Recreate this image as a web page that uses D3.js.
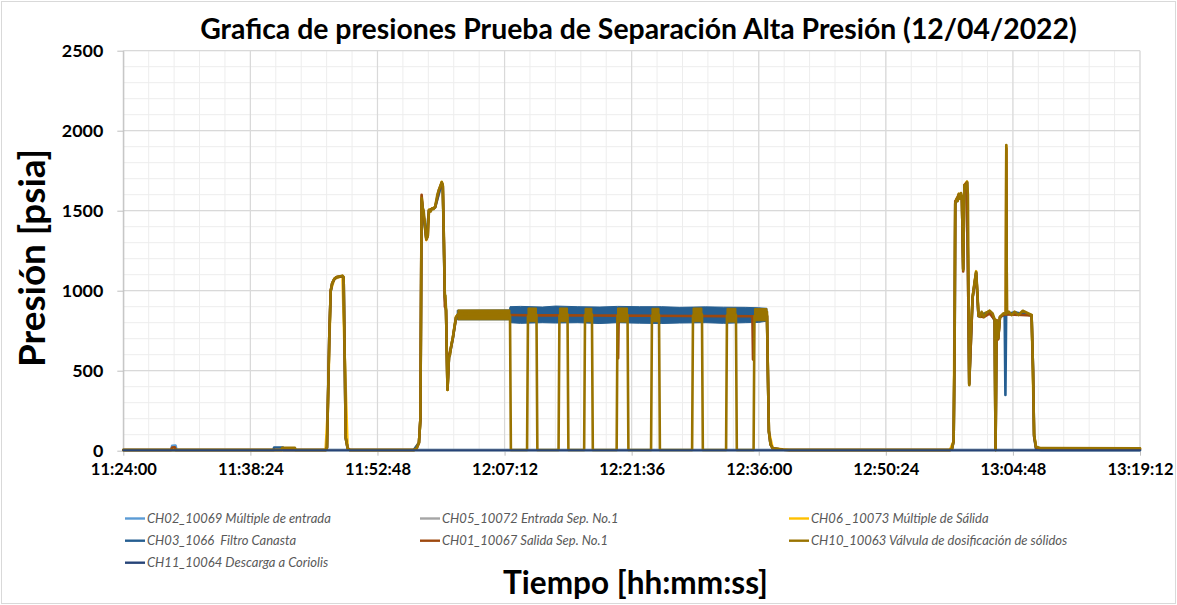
<!DOCTYPE html>
<html lang="es">
<head>
<meta charset="utf-8">
<title>Grafica de presiones</title>
<script src="https://cdn.jsdelivr.net/npm/d3@7"></script>
<style>
  html, body { margin: 0; padding: 0; background: #ffffff; }
  svg { display: block; }
  text { font-family: Lato, "Open Sans", "DejaVu Sans", sans-serif; }
</style>
</head>
<body>
<svg id="chart" width="1177" height="605"></svg>
<script>
// ---- Texts -----------------------------------------------------------
const chartTitle = "Grafica de presiones Prueba de Separación Alta Presión (12/04/2022)";
const yAxisTitle = "Presión [psia]";
const xAxisTitle = "Tiempo [hh:mm:ss]";

// ---- Axis ticks --------------------------------------------------------
const xTickLabels = ["11:24:00", "11:38:24", "11:52:48", "12:07:12", "12:21:36",
                     "12:36:00", "12:50:24", "13:04:48", "13:19:12"];
const yTickValues = [0, 500, 1000, 1500, 2000, 2500];

// ---- Series names (legend order) ---------------------------------------
const seriesNames = [
  "CH02_10069 Múltiple de entrada",
  "CH05_10072 Entrada Sep. No.1",
  "CH06 _10073 Múltiple de Sálida",
  "CH03_1066  Filtro Canasta",
  "CH01_10067 Salida Sep. No.1",
  "CH10_10063 Válvula de dosificación de sólidos",
  "CH11_10064 Descarga a Coriolis"
];

// ---- Pressure records [hh:mm:ss, psia] ---------------------------------
const ch02 = [
  ["11:24:00", 4], ["11:29:25", 4], ["11:29:32", 30], ["11:29:55", 32], ["11:30:02", 4],
  ["13:19:12", 4]
];

const ch05 = [
  ["11:24:00", 4], ["13:19:12", 4]
];

const ch06 = [
  ["11:24:00", 4], ["11:46:55", 4], ["11:47:10", 250], ["11:47:30", 1000], ["11:47:55", 1074],
  ["11:48:50", 1092], ["11:49:05", 600], ["11:49:25", 15], ["11:49:40", 4],
  ["11:56:55", 4], ["11:57:30", 50], ["11:57:40", 200], ["11:57:48", 1590], ["11:57:55", 1520],
  ["11:58:20", 1316], ["11:58:38", 1505], ["11:59:20", 1522], ["12:00:05", 1680], ["12:00:12", 1658],
  ["12:00:26", 960], ["12:00:34", 878], ["12:00:44", 380], ["12:00:54", 586], ["12:01:21", 710],
  ["12:01:42", 836], ["12:01:55", 850], ["12:36:56", 850], ["12:37:09", 120], ["12:37:35", 15],
  ["12:39:30", 4],
  ["12:57:40", 4], ["12:58:05", 60], ["12:58:16", 1550], ["12:58:40", 1605], ["12:59:01", 1590],
  ["12:59:10", 1135], ["12:59:18", 1660], ["12:59:36", 1682], ["12:59:51", 412], ["13:00:14", 960],
  ["13:00:38", 1122], ["13:00:54", 845], ["13:02:10", 872], ["13:02:44", 820], ["13:02:50", 4],
  ["13:02:57", 815], ["13:03:08", 705], ["13:03:20", 836], ["13:04:00", 855], ["13:04:03", 1905],
  ["13:04:07", 858], ["13:06:55", 848], ["13:07:12", 100], ["13:07:25", 20], ["13:08:00", 12],
  ["13:19:12", 12]
];

const ch03 = [
  ["11:24:00", 4], ["11:41:00", 4], ["11:41:05", 20], ["11:42:06", 20], ["11:42:11", 4],
  ["11:46:55", 4], ["11:47:05", 20], ["11:47:10", 250], ["11:47:20", 700], ["11:47:30", 995],
  ["11:47:40", 1045], ["11:47:55", 1072], ["11:48:10", 1084], ["11:48:50", 1090], ["11:48:58", 1080],
  ["11:49:05", 600], ["11:49:12", 80], ["11:49:25", 15], ["11:49:40", 4],
  ["11:56:55", 4], ["11:57:30", 50], ["11:57:40", 200], ["11:57:48", 1570], ["11:57:55", 1515],
  ["11:58:20", 1325], ["11:58:38", 1500], ["11:59:20", 1520], ["12:00:05", 1672], ["12:00:12", 1655],
  ["12:00:26", 955], ["12:00:34", 875], ["12:00:44", 385], ["12:00:54", 580], ["12:01:21", 705],
  ["12:01:42", 830], ["12:01:55", 846],
  ["12:07:49", 848], ["12:20:00", 846], ["12:36:50", 842], ["12:36:56", 842], ["12:37:02", 500],
  ["12:37:09", 120], ["12:37:20", 40], ["12:37:35", 15], ["12:38:45", 6], ["12:39:30", 4],
  ["12:57:40", 4], ["12:57:55", 15], ["12:58:05", 60], ["12:58:12", 700], ["12:58:16", 1540],
  ["12:58:40", 1600], ["12:59:01", 1585], ["12:59:10", 1135], ["12:59:18", 1655], ["12:59:36", 1675],
  ["12:59:51", 415], ["13:00:14", 955], ["13:00:38", 1110], ["13:00:54", 840], ["13:02:10", 870],
  ["13:02:44", 815], ["13:02:50", 4], ["13:02:57", 810], ["13:03:08", 700], ["13:03:20", 835],
  ["13:03:52", 852], ["13:03:57", 348], ["13:04:02", 852], ["13:05:00", 865], ["13:06:55", 845],
  ["13:07:05", 500], ["13:07:12", 90], ["13:07:25", 10], ["13:08:00", 4], ["13:19:12", 4]
];

// noisy reading of CH03 during the separation test: [hh:mm:ss, min, max]
const ch03Band = [
  ["12:01:50", 818, 878], ["12:07:45", 818, 880], ["12:07:49", 800, 900], ["12:09:00", 796, 902],
  ["12:11:30", 800, 898], ["12:13:00", 798, 904], ["12:15:30", 800, 900], ["12:18:00", 795, 898],
  ["12:20:00", 800, 902], ["12:22:30", 797, 900], ["12:25:00", 795, 900], ["12:27:00", 798, 896],
  ["12:30:00", 800, 899], ["12:32:00", 796, 897], ["12:34:30", 800, 896], ["12:36:00", 802, 893],
  ["12:36:56", 810, 890]
];

const ch01 = [
  ["11:24:00", 4], ["11:29:25", 4], ["11:29:32", 20], ["11:29:50", 22], ["11:29:57", 4],
  ["11:46:55", 4], ["11:47:05", 20], ["11:47:10", 250], ["11:47:20", 700], ["11:47:30", 1000],
  ["11:47:40", 1046], ["11:47:55", 1074], ["11:48:10", 1085], ["11:48:50", 1092], ["11:48:58", 1082],
  ["11:49:05", 600], ["11:49:12", 80], ["11:49:25", 15], ["11:49:40", 4],
  ["11:56:55", 4], ["11:57:15", 15], ["11:57:30", 50], ["11:57:40", 200], ["11:57:48", 1600],
  ["11:57:55", 1515], ["11:58:10", 1420], ["11:58:20", 1320], ["11:58:30", 1340], ["11:58:38", 1502],
  ["11:59:20", 1522], ["11:59:45", 1628], ["12:00:05", 1675], ["12:00:12", 1655], ["12:00:20", 1300],
  ["12:00:26", 900], ["12:00:30", 905], ["12:00:34", 875], ["12:00:44", 382], ["12:00:54", 584],
  ["12:01:08", 645], ["12:01:21", 708], ["12:01:42", 832], ["12:01:55", 848],
  ["12:07:49", 848], ["12:10:00", 846], ["12:14:00", 846], ["12:17:30", 845], ["12:20:00", 844],
  ["12:20:04", 578], ["12:20:08", 844], ["12:24:00", 843], ["12:28:00", 842], ["12:32:00", 841],
  ["12:35:17", 840], ["12:35:21", 570], ["12:35:25", 840], ["12:36:56", 842], ["12:37:02", 500],
  ["12:37:09", 120], ["12:37:20", 40], ["12:37:35", 15], ["12:38:45", 6], ["12:39:30", 4],
  ["12:57:40", 4], ["12:57:55", 15], ["12:58:05", 60], ["12:58:12", 700], ["12:58:16", 1560],
  ["12:58:25", 1570], ["12:58:40", 1600], ["12:59:01", 1588], ["12:59:10", 1120], ["12:59:18", 1658],
  ["12:59:36", 1678], ["12:59:51", 420], ["13:00:14", 958], ["13:00:38", 1112], ["13:00:54", 842],
  ["13:01:30", 834], ["13:02:10", 858], ["13:02:44", 818], ["13:02:50", 4], ["13:02:57", 815],
  ["13:03:08", 695], ["13:03:20", 834], ["13:03:45", 850], ["13:04:00", 852], ["13:04:03", 1890],
  ["13:04:07", 852], ["13:05:00", 850], ["13:06:55", 846], ["13:07:05", 500], ["13:07:12", 90],
  ["13:07:25", 20], ["13:08:00", 10], ["13:19:12", 10]
];

const ch10 = [
  ["11:24:00", 4], ["11:41:55", 4], ["11:42:00", 18], ["11:43:27", 18], ["11:43:32", 4],
  ["11:46:55", 4], ["11:47:05", 20], ["11:47:10", 250], ["11:47:20", 700], ["11:47:30", 1000],
  ["11:47:40", 1048], ["11:47:55", 1075], ["11:48:10", 1086], ["11:48:50", 1094], ["11:48:58", 1085],
  ["11:49:05", 600], ["11:49:12", 80], ["11:49:25", 15], ["11:49:40", 4],
  ["11:56:55", 4], ["11:57:15", 15], ["11:57:30", 50], ["11:57:40", 200], ["11:57:48", 1579],
  ["11:57:55", 1520], ["11:58:02", 1500], ["11:58:10", 1420], ["11:58:20", 1323], ["11:58:30", 1340],
  ["11:58:38", 1505], ["11:58:50", 1495], ["11:59:00", 1515], ["11:59:10", 1510], ["11:59:20", 1525],
  ["11:59:35", 1600], ["11:59:45", 1630], ["11:59:55", 1655], ["12:00:05", 1679], ["12:00:12", 1660],
  ["12:00:20", 1300], ["12:00:26", 961], ["12:00:30", 970], ["12:00:34", 879], ["12:00:44", 379],
  ["12:00:54", 586], ["12:01:02", 600], ["12:01:08", 648], ["12:01:21", 711], ["12:01:32", 780],
  ["12:01:42", 836], ["12:01:55", 852],
  ["12:04:30", 855], ["12:07:45", 850], ["12:07:49", 845], ["12:07:55", 4],
  ["12:09:45", 4], ["12:09:51", 840], ["12:10:20", 855], ["12:10:49", 850], ["12:10:55", 4],
  ["12:13:19", 4], ["12:13:25", 845], ["12:14:20", 852], ["12:14:26", 4],
  ["12:16:13", 4], ["12:16:19", 848], ["12:17:06", 852], ["12:17:12", 4],
  ["12:19:54", 4], ["12:20:00", 845], ["12:20:35", 855], ["12:21:08", 850], ["12:21:14", 4],
  ["12:23:48", 4], ["12:23:54", 842], ["12:24:42", 850], ["12:24:48", 4],
  ["12:28:27", 4], ["12:28:33", 845], ["12:29:34", 852], ["12:29:40", 4],
  ["12:32:18", 4], ["12:32:24", 845], ["12:33:25", 850], ["12:33:31", 4],
  ["12:35:25", 4], ["12:35:31", 842], ["12:36:15", 860], ["12:36:56", 868], ["12:37:02", 500],
  ["12:37:09", 120], ["12:37:20", 40], ["12:37:35", 15], ["12:38:45", 6], ["12:39:30", 4],
  ["12:57:40", 4], ["12:57:55", 15], ["12:58:05", 60], ["12:58:12", 700], ["12:58:16", 1548],
  ["12:58:25", 1575], ["12:58:33", 1560], ["12:58:40", 1605], ["12:58:47", 1575], ["12:58:55", 1610],
  ["12:59:01", 1590], ["12:59:10", 1129], ["12:59:18", 1660], ["12:59:28", 1640], ["12:59:36", 1681],
  ["12:59:42", 1600], ["12:59:51", 410], ["13:00:00", 700], ["13:00:14", 960], ["13:00:28", 1060],
  ["13:00:38", 1118], ["13:00:46", 1000], ["13:00:54", 845], ["13:01:04", 837], ["13:01:15", 868],
  ["13:01:30", 836], ["13:01:45", 860], ["13:02:10", 875], ["13:02:30", 858], ["13:02:44", 820],
  ["13:02:50", 4], ["13:02:57", 817], ["13:03:08", 704], ["13:03:20", 837], ["13:03:45", 859],
  ["13:04:00", 855], ["13:04:03", 1911], ["13:04:07", 859], ["13:04:20", 869], ["13:04:40", 848],
  ["13:05:00", 869], ["13:05:25", 848], ["13:05:55", 875], ["13:06:30", 859], ["13:06:55", 848],
  ["13:07:05", 500], ["13:07:12", 100], ["13:07:25", 25], ["13:08:00", 16], ["13:19:12", 15]
];

// spread of CH10 while the valve is open: [start, end, min, max]
const ch10BandRuns = [
  ["12:01:55", "12:07:49", 818, 880],
  ["12:09:51", "12:10:49", 806, 892],
  ["12:13:25", "12:14:20", 806, 892],
  ["12:16:19", "12:17:06", 806, 890],
  ["12:20:00", "12:21:08", 804, 892],
  ["12:23:54", "12:24:42", 806, 890],
  ["12:28:33", "12:29:34", 806, 892],
  ["12:32:24", "12:33:25", 804, 890],
  ["12:35:31", "12:36:56", 812, 888]
];

const ch11 = [
  ["11:24:00", 3], ["13:19:12", 3]
];

// ---- Series table (drawing order = legend order) -------------------------
const seriesColors = ["#5B9BD5", "#A5A5A5", "#FFC000", "#255E91", "#9E480E", "#997300", "#264478"];
const seriesData = [ch02, ch05, ch06, ch03, ch01, ch10, ch11];
const series = seriesNames.map((name, i) => ({
  name, color: seriesColors[i], data: seriesData[i],
  width: i === 6 ? 2 : 2.6
}));

// ---- Layout -------------------------------------------------------------
const W = 1177, H = 605;
const plot = { left: 123.3, right: 1140, top: 50.7, bottom: 450.7 };

const svg = d3.select("#chart");
const parse = d3.timeParse("%H:%M:%S");
const fmt = d3.timeFormat("%H:%M:%S");

const xTicks = xTickLabels.map(parse);
const x = d3.scaleTime().domain([xTicks[0], xTicks[xTicks.length - 1]]).range([plot.left, plot.right]);
const y = d3.scaleLinear().domain([0, 2500]).range([plot.bottom, plot.top]);

function fitWidth(sel, target) {
  const size = parseFloat(sel.attr("font-size"));
  const len = sel.node().getComputedTextLength();
  sel.attr("font-size", (size * target / len).toFixed(2));
  return size * target / len;
}

// outer chart frame
svg.append("rect")
  .attr("x", 1.5).attr("y", 1.5).attr("width", W - 3).attr("height", H - 3)
  .attr("fill", "#ffffff").attr("stroke", "#D9D9D9").attr("stroke-width", 1);

// ---- Grid -------------------------------------------------------------
const grid = svg.append("g");
const t0 = xTicks[0].getTime(), t1 = xTicks[xTicks.length - 1].getTime();
const majorStep = xTicks[1].getTime() - t0;
const minorX = d3.range(t0, t1 + 1, majorStep / 5).map(t => new Date(t));
const minorY = d3.range(0, 2501, 100);

grid.selectAll(".minx").data(minorX).join("line")
  .attr("x1", d => x(d)).attr("x2", d => x(d))
  .attr("y1", plot.top).attr("y2", plot.bottom)
  .attr("stroke", "#EDEDED").attr("stroke-width", 1);
grid.selectAll(".miny").data(minorY).join("line")
  .attr("x1", plot.left).attr("x2", plot.right)
  .attr("y1", d => y(d)).attr("y2", d => y(d))
  .attr("stroke", "#EDEDED").attr("stroke-width", 1);
grid.selectAll(".majx").data(xTicks).join("line")
  .attr("x1", d => x(d)).attr("x2", d => x(d))
  .attr("y1", plot.top).attr("y2", plot.bottom)
  .attr("stroke", "#D9D9D9").attr("stroke-width", 1.2);
grid.selectAll(".majy").data(yTickValues).join("line")
  .attr("x1", plot.left).attr("x2", plot.right)
  .attr("y1", d => y(d)).attr("y2", d => y(d))
  .attr("stroke", "#D9D9D9").attr("stroke-width", 1.2);

// ---- Axes -------------------------------------------------------------
const yAxis = svg.append("g")
  .attr("transform", `translate(${plot.left},0)`)
  .call(d3.axisLeft(y).tickValues(yTickValues).tickFormat(d3.format("d"))
    .tickSize(6).tickSizeOuter(0).tickPadding(14));
yAxis.select(".domain").attr("stroke", "#BFBFBF");
yAxis.selectAll(".tick line").attr("stroke", "#BFBFBF");
yAxis.selectAll(".tick text").attr("font-weight", 700).attr("fill", "#000")
  .attr("font-family", "Lato, 'Open Sans', sans-serif").attr("font-size", 18);
{
  const probe = yAxis.selectAll(".tick text").filter(d => d === 2500);
  const fs = fitWidth(probe, 41.5);
  yAxis.selectAll(".tick text").attr("font-size", fs.toFixed(2));
}

const xAxis = svg.append("g")
  .attr("transform", `translate(0,${plot.bottom})`)
  .call(d3.axisBottom(x).tickValues(xTicks).tickFormat(fmt).tickSize(5).tickSizeOuter(0).tickPadding(8));
xAxis.select(".domain").attr("stroke", "#BFBFBF");
xAxis.selectAll(".tick line").attr("stroke", "#BFBFBF");
xAxis.selectAll(".tick text").attr("font-weight", 700).attr("fill", "#000")
  .attr("font-family", "Lato, 'Open Sans', sans-serif").attr("font-size", 16);
{
  const probe = xAxis.selectAll(".tick text").filter((d, i) => i === 1);
  const fs = fitWidth(probe, 66);
  xAxis.selectAll(".tick text").attr("font-size", fs.toFixed(2));
}

// ---- Data -------------------------------------------------------------
const line = d3.line().x(d => x(parse(d[0]))).y(d => y(d[1]));
const band = d3.area().x(d => x(parse(d[0]))).y0(d => y(d[1])).y1(d => y(d[2]));
const marks = svg.append("g");

series.forEach(s => {
  if (s.data === ch03) {
    marks.append("path").datum(ch03Band)
      .attr("d", band).attr("fill", s.color).attr("stroke", s.color).attr("stroke-width", 1);
  }
  if (s.data === ch10) {
    ch10BandRuns.forEach(r => {
      marks.append("path").datum([[r[0], r[2], r[3]], [r[1], r[2], r[3]]])
        .attr("d", band).attr("fill", s.color).attr("stroke", s.color).attr("stroke-width", 1);
    });
  }
  marks.append("path").datum(s.data)
    .attr("d", line)
    .attr("fill", "none")
    .attr("stroke", s.color)
    .attr("stroke-width", s.width)
    .attr("stroke-linejoin", "round")
    .attr("stroke-linecap", "round");
});

// ---- Titles -------------------------------------------------------------
const title = svg.append("text")
  .attr("x", 638.5).attr("y", 38.5).attr("text-anchor", "middle")
  .attr("font-weight", 700).attr("font-size", 24).attr("fill", "#000")
  .text(chartTitle);
fitWidth(title, 877);

const yTitle = svg.append("text")
  .attr("transform", "translate(45,258) rotate(-90)")
  .attr("text-anchor", "middle")
  .attr("font-weight", 700).attr("font-size", 32).attr("fill", "#000")
  .text(yAxisTitle);
fitWidth(yTitle, 218);

const xTitle = svg.append("text")
  .attr("x", 635.5).attr("y", 594).attr("text-anchor", "middle")
  .attr("font-weight", 700).attr("font-size", 32).attr("fill", "#000")
  .text(xAxisTitle);
fitWidth(xTitle, 265);

// ---- Legend -------------------------------------------------------------
const legendCols = [125, 420, 789];
const legendRows = [518.5, 540.7, 562.7];
const legend = svg.append("g");
const items = legend.selectAll("g").data(series).join("g")
  .attr("transform", (d, i) => `translate(${legendCols[i % 3]},${legendRows[Math.floor(i / 3)]})`);
items.append("line")
  .attr("x1", 0).attr("x2", 20).attr("y1", 0).attr("y2", 0)
  .attr("stroke", d => d.color).attr("stroke-width", 2.4);
const labels = items.append("text")
  .attr("x", 22).attr("dy", "0.36em")
  .attr("font-style", "italic").attr("font-size", 13).attr("fill", "#595959")
  .style("white-space", "pre")
  .text(d => d.name);
{
  const fs = fitWidth(labels.filter((d, i) => i === 0), 184);
  labels.attr("font-size", fs.toFixed(2));
}
</script>
</body>
</html>
